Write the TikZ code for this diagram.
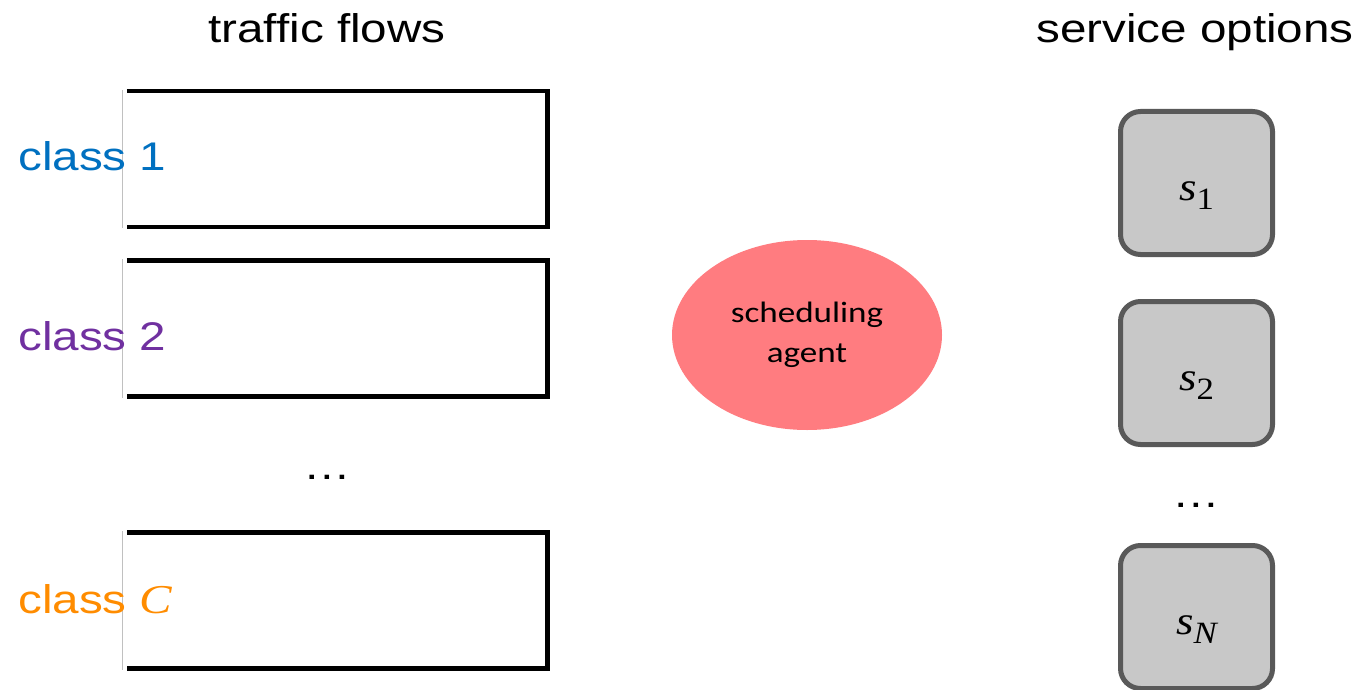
\documentclass[tikz,border=0pt]{standalone}
\usepackage{fontspec}
\setmainfont{Liberation Sans}
\newfontfamily\calibrifont{Carlito}
\newfontfamily\symbolfont{Liberation Serif}
\usetikzlibrary{shapes.geometric}

\definecolor{classblue}{HTML}{0070C0}
\definecolor{classpurple}{HTML}{7030A0}
\definecolor{classorange}{HTML}{FF8C00}
\definecolor{agentred}{HTML}{FF7C80}
\definecolor{boxfill}{HTML}{C8C8C8}
\definecolor{boxedge}{HTML}{595959}
\definecolor{divider}{HTML}{C0C0C0}

% horizontally widened text
\newcommand\widen[1]{\scalebox{1.19}[1]{#1}}
% italic symbol with an upright or italic index below the baseline
\newcommand\symsub[2]{\scalebox{1.12}[1]{{\symbolfont\itshape #1}\raisebox{-9pt}{\symbolfont\fontsize{31}{33}\selectfont #2}}}

\tikzset{
  queue/.style={minimum width=420.5pt, minimum height=136pt, inner sep=0pt},
  queueline/.style={draw=black, line width=4.5pt, line join=miter},
  queueedge/.style={draw=divider, line width=1.3pt},
  classlabel/.style={anchor=base west, inner sep=0pt, font=\fontsize{40}{48}\selectfont},
  title/.style={anchor=base, inner sep=0pt, font=\fontsize{40}{48}\selectfont},
  agent/.style={ellipse, fill=agentred, minimum width=270pt, minimum height=190pt,
    inner sep=0pt, align=center, font=\calibrifont\fontsize{29.5}{40}\selectfont},
  service/.style={draw=boxedge, fill=boxfill, line width=5pt, rounded corners=20pt,
    minimum width=152pt, minimum height=143pt, inner sep=0pt,
    text height=38pt, text depth=4pt, font=\fontsize{40}{48}\selectfont},
  moredots/.style={anchor=base, inner sep=0pt, font=\fontsize{40}{48}\selectfont},
}

\begin{document}
\begin{tikzpicture}[x=1pt, y=-1pt]
\useasboundingbox (0,0) rectangle (1359,690);

% headings
\node[title] (tflows) at (327,43) {\widen{traffic flows}};
\node[title] (tservice) at (1195,43) {\widen{service options}};

% traffic class queues
\node[queue] (q1) at (337.25,159) {};
\node[queue] (q2) at (337.25,328.5) {};
\node[queue] (qc) at (337.25,600.5) {};
\foreach \q in {q1,q2,qc}{
  \draw[queueline] (\q.north west) -- (\q.north east) -- (\q.south east) -- (\q.south west);
  \draw[queueedge] ([xshift=-4.5pt,yshift=1pt]\q.north west) -- ([xshift=-4.5pt,yshift=-1pt]\q.south west);
}

\node[classlabel, text=classblue] (c1) at (18,170) {\widen{class 1}};
\node[classlabel, text=classpurple] (c2) at (18,350) {\widen{class 2}};
\node[classlabel, text=classorange] (cc) at (18,613) {\widen{class {\symbolfont\itshape\fontsize{41}{48}\selectfont C}}};

\node[moredots] (qdots) at (327.7,479) {\widen{…}};

% scheduler
\node[agent] (sched) at (807,335) {\widen{scheduling}\\\widen{agent}};

% service options
\node[service] (s1) at (1196.5,183) {\symsub{s}{1}};
\node[service] (s2) at (1196.5,373) {\symsub{s}{2}};
\node[service] (sn) at (1196.5,617) {\symsub{s}{\itshape N}};

\node[moredots] (sdots) at (1196,507) {\widen{…}};
\end{tikzpicture}
\end{document}
